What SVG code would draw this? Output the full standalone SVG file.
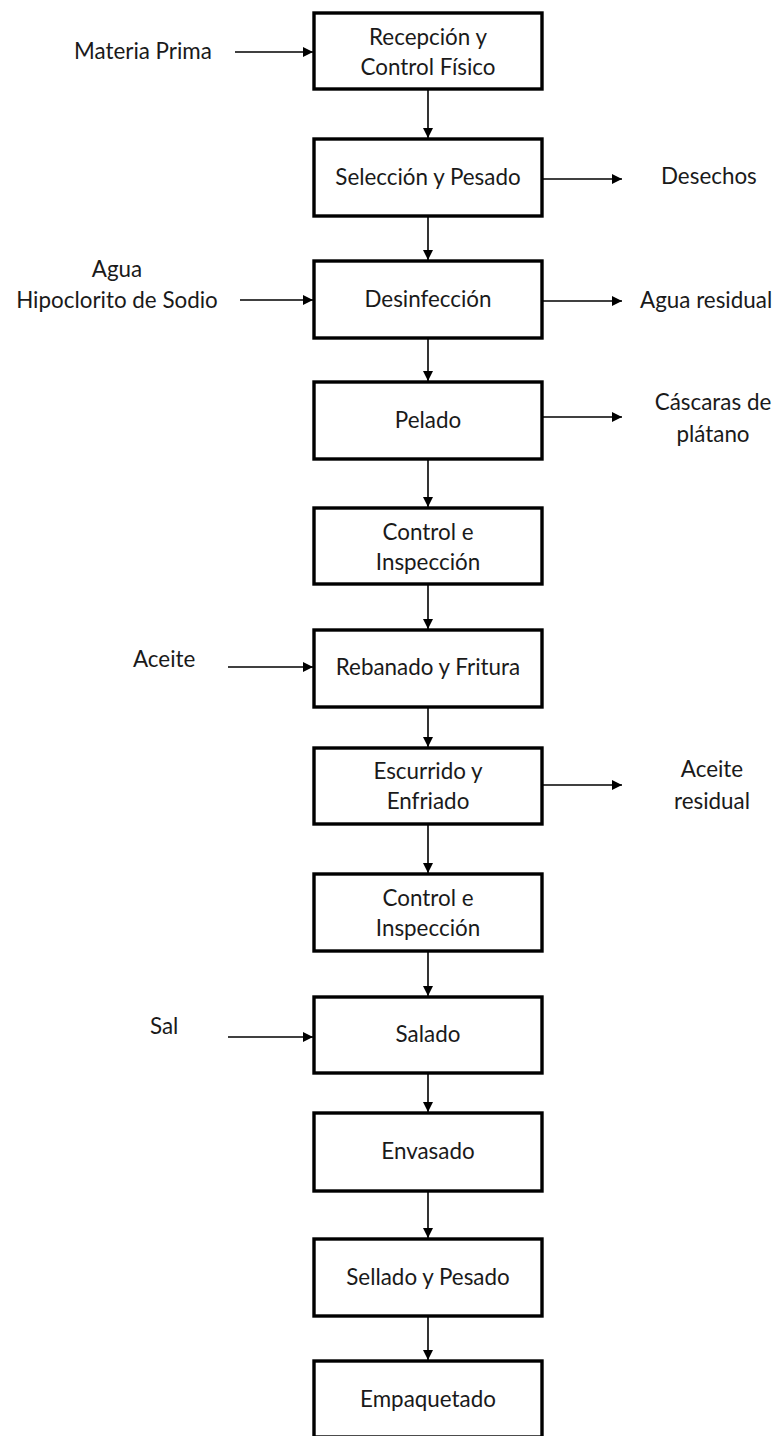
<svg xmlns="http://www.w3.org/2000/svg" width="779" height="1436" viewBox="0 0 779 1436">
  <style>
    .box { fill: #ffffff; stroke: #000000; stroke-width: 3.4; }
    .lbl { font-family: Lato, "Liberation Sans", sans-serif; font-size: 22.4px; fill: #1a1a1a; }
    .c { text-anchor: middle; }
    .flow { stroke: #000000; stroke-width: 1.6; fill: none; marker-end: url(#head); }
  </style>
  <defs>
    <marker id="head" viewBox="0 0 10 10" refX="10" refY="5" markerWidth="10" markerHeight="10" markerUnits="userSpaceOnUse" orient="auto">
      <path d="M0,0 L10,5 L0,10 z" fill="#000000"/>
    </marker>
  </defs>
  <rect width="779" height="1436" fill="#ffffff"/>

  <!-- process steps -->
  <g id="recepcion">
    <rect class="box" x="314" y="13" width="228" height="76"/>
    <text class="lbl c" x="428" y="45">Recepción y</text>
    <text class="lbl c" x="428" y="75">Control Físico</text>
  </g>
  <g id="seleccion">
    <rect class="box" x="314" y="139" width="228" height="77"/>
    <text class="lbl c" x="428" y="185">Selección y Pesado</text>
  </g>
  <g id="desinfeccion">
    <rect class="box" x="314" y="261" width="228" height="77"/>
    <text class="lbl c" x="428" y="307">Desinfección</text>
  </g>
  <g id="pelado">
    <rect class="box" x="314" y="382" width="228" height="77"/>
    <text class="lbl c" x="428" y="428">Pelado</text>
  </g>
  <g id="control1">
    <rect class="box" x="314" y="508" width="228" height="76"/>
    <text class="lbl c" x="428" y="540">Control e</text>
    <text class="lbl c" x="428" y="570">Inspección</text>
  </g>
  <g id="rebanado">
    <rect class="box" x="314" y="630" width="228" height="77"/>
    <text class="lbl c" x="428" y="675">Rebanado y Fritura</text>
  </g>
  <g id="escurrido">
    <rect class="box" x="314" y="748" width="228" height="76"/>
    <text class="lbl c" x="428" y="779">Escurrido y</text>
    <text class="lbl c" x="428" y="809">Enfriado</text>
  </g>
  <g id="control2">
    <rect class="box" x="314" y="874" width="228" height="77"/>
    <text class="lbl c" x="428" y="906">Control e</text>
    <text class="lbl c" x="428" y="936">Inspección</text>
  </g>
  <g id="salado">
    <rect class="box" x="314" y="997" width="228" height="76"/>
    <text class="lbl c" x="428" y="1042">Salado</text>
  </g>
  <g id="envasado">
    <rect class="box" x="314" y="1113" width="228" height="78"/>
    <text class="lbl c" x="428" y="1159">Envasado</text>
  </g>
  <g id="sellado">
    <rect class="box" x="314" y="1239" width="228" height="77"/>
    <text class="lbl c" x="428" y="1285">Sellado y Pesado</text>
  </g>
  <g id="empaquetado">
    <rect class="box" x="314" y="1361" width="228" height="76"/>
    <text class="lbl c" x="428" y="1407">Empaquetado</text>
  </g>

  <!-- inputs and outputs -->
  <g id="materia-prima">
    <text class="lbl" x="74" y="59">Materia Prima</text>
  </g>
  <g id="agua-hipoclorito">
    <text class="lbl c" x="117" y="277">Agua</text>
    <text class="lbl c" x="117" y="308">Hipoclorito de Sodio</text>
  </g>
  <g id="aceite">
    <text class="lbl" x="133" y="667">Aceite</text>
  </g>
  <g id="sal">
    <text class="lbl" x="150" y="1034">Sal</text>
  </g>
  <g id="desechos">
    <text class="lbl" x="661" y="184">Desechos</text>
  </g>
  <g id="agua-residual">
    <text class="lbl" x="640" y="308">Agua residual</text>
  </g>
  <g id="cascaras">
    <text class="lbl c" x="713" y="410">Cáscaras de</text>
    <text class="lbl c" x="713" y="442">plátano</text>
  </g>
  <g id="aceite-residual">
    <text class="lbl c" x="712" y="777">Aceite</text>
    <text class="lbl c" x="712" y="809">residual</text>
  </g>

  <!-- connectors -->
  <g id="connectors">
    <line class="flow" x1="428" y1="90" x2="428" y2="138"/>
    <line class="flow" x1="428" y1="217" x2="428" y2="260"/>
    <line class="flow" x1="428" y1="339" x2="428" y2="381"/>
    <line class="flow" x1="428" y1="460" x2="428" y2="507"/>
    <line class="flow" x1="428" y1="585" x2="428" y2="629"/>
    <line class="flow" x1="428" y1="708" x2="428" y2="747"/>
    <line class="flow" x1="428" y1="825" x2="428" y2="873"/>
    <line class="flow" x1="428" y1="952" x2="428" y2="996"/>
    <line class="flow" x1="428" y1="1074" x2="428" y2="1112"/>
    <line class="flow" x1="428" y1="1192" x2="428" y2="1238"/>
    <line class="flow" x1="428" y1="1317" x2="428" y2="1360"/>

    <line class="flow" x1="235" y1="52" x2="313" y2="52"/>
    <line class="flow" x1="240" y1="300" x2="313" y2="300"/>
    <line class="flow" x1="228" y1="667" x2="313" y2="667"/>
    <line class="flow" x1="228" y1="1037" x2="313" y2="1037"/>

    <line class="flow" x1="543" y1="179" x2="622" y2="179"/>
    <line class="flow" x1="543" y1="301" x2="622" y2="301"/>
    <line class="flow" x1="543" y1="417" x2="622" y2="417"/>
    <line class="flow" x1="543" y1="785" x2="622" y2="785"/>
  </g>
</svg>
